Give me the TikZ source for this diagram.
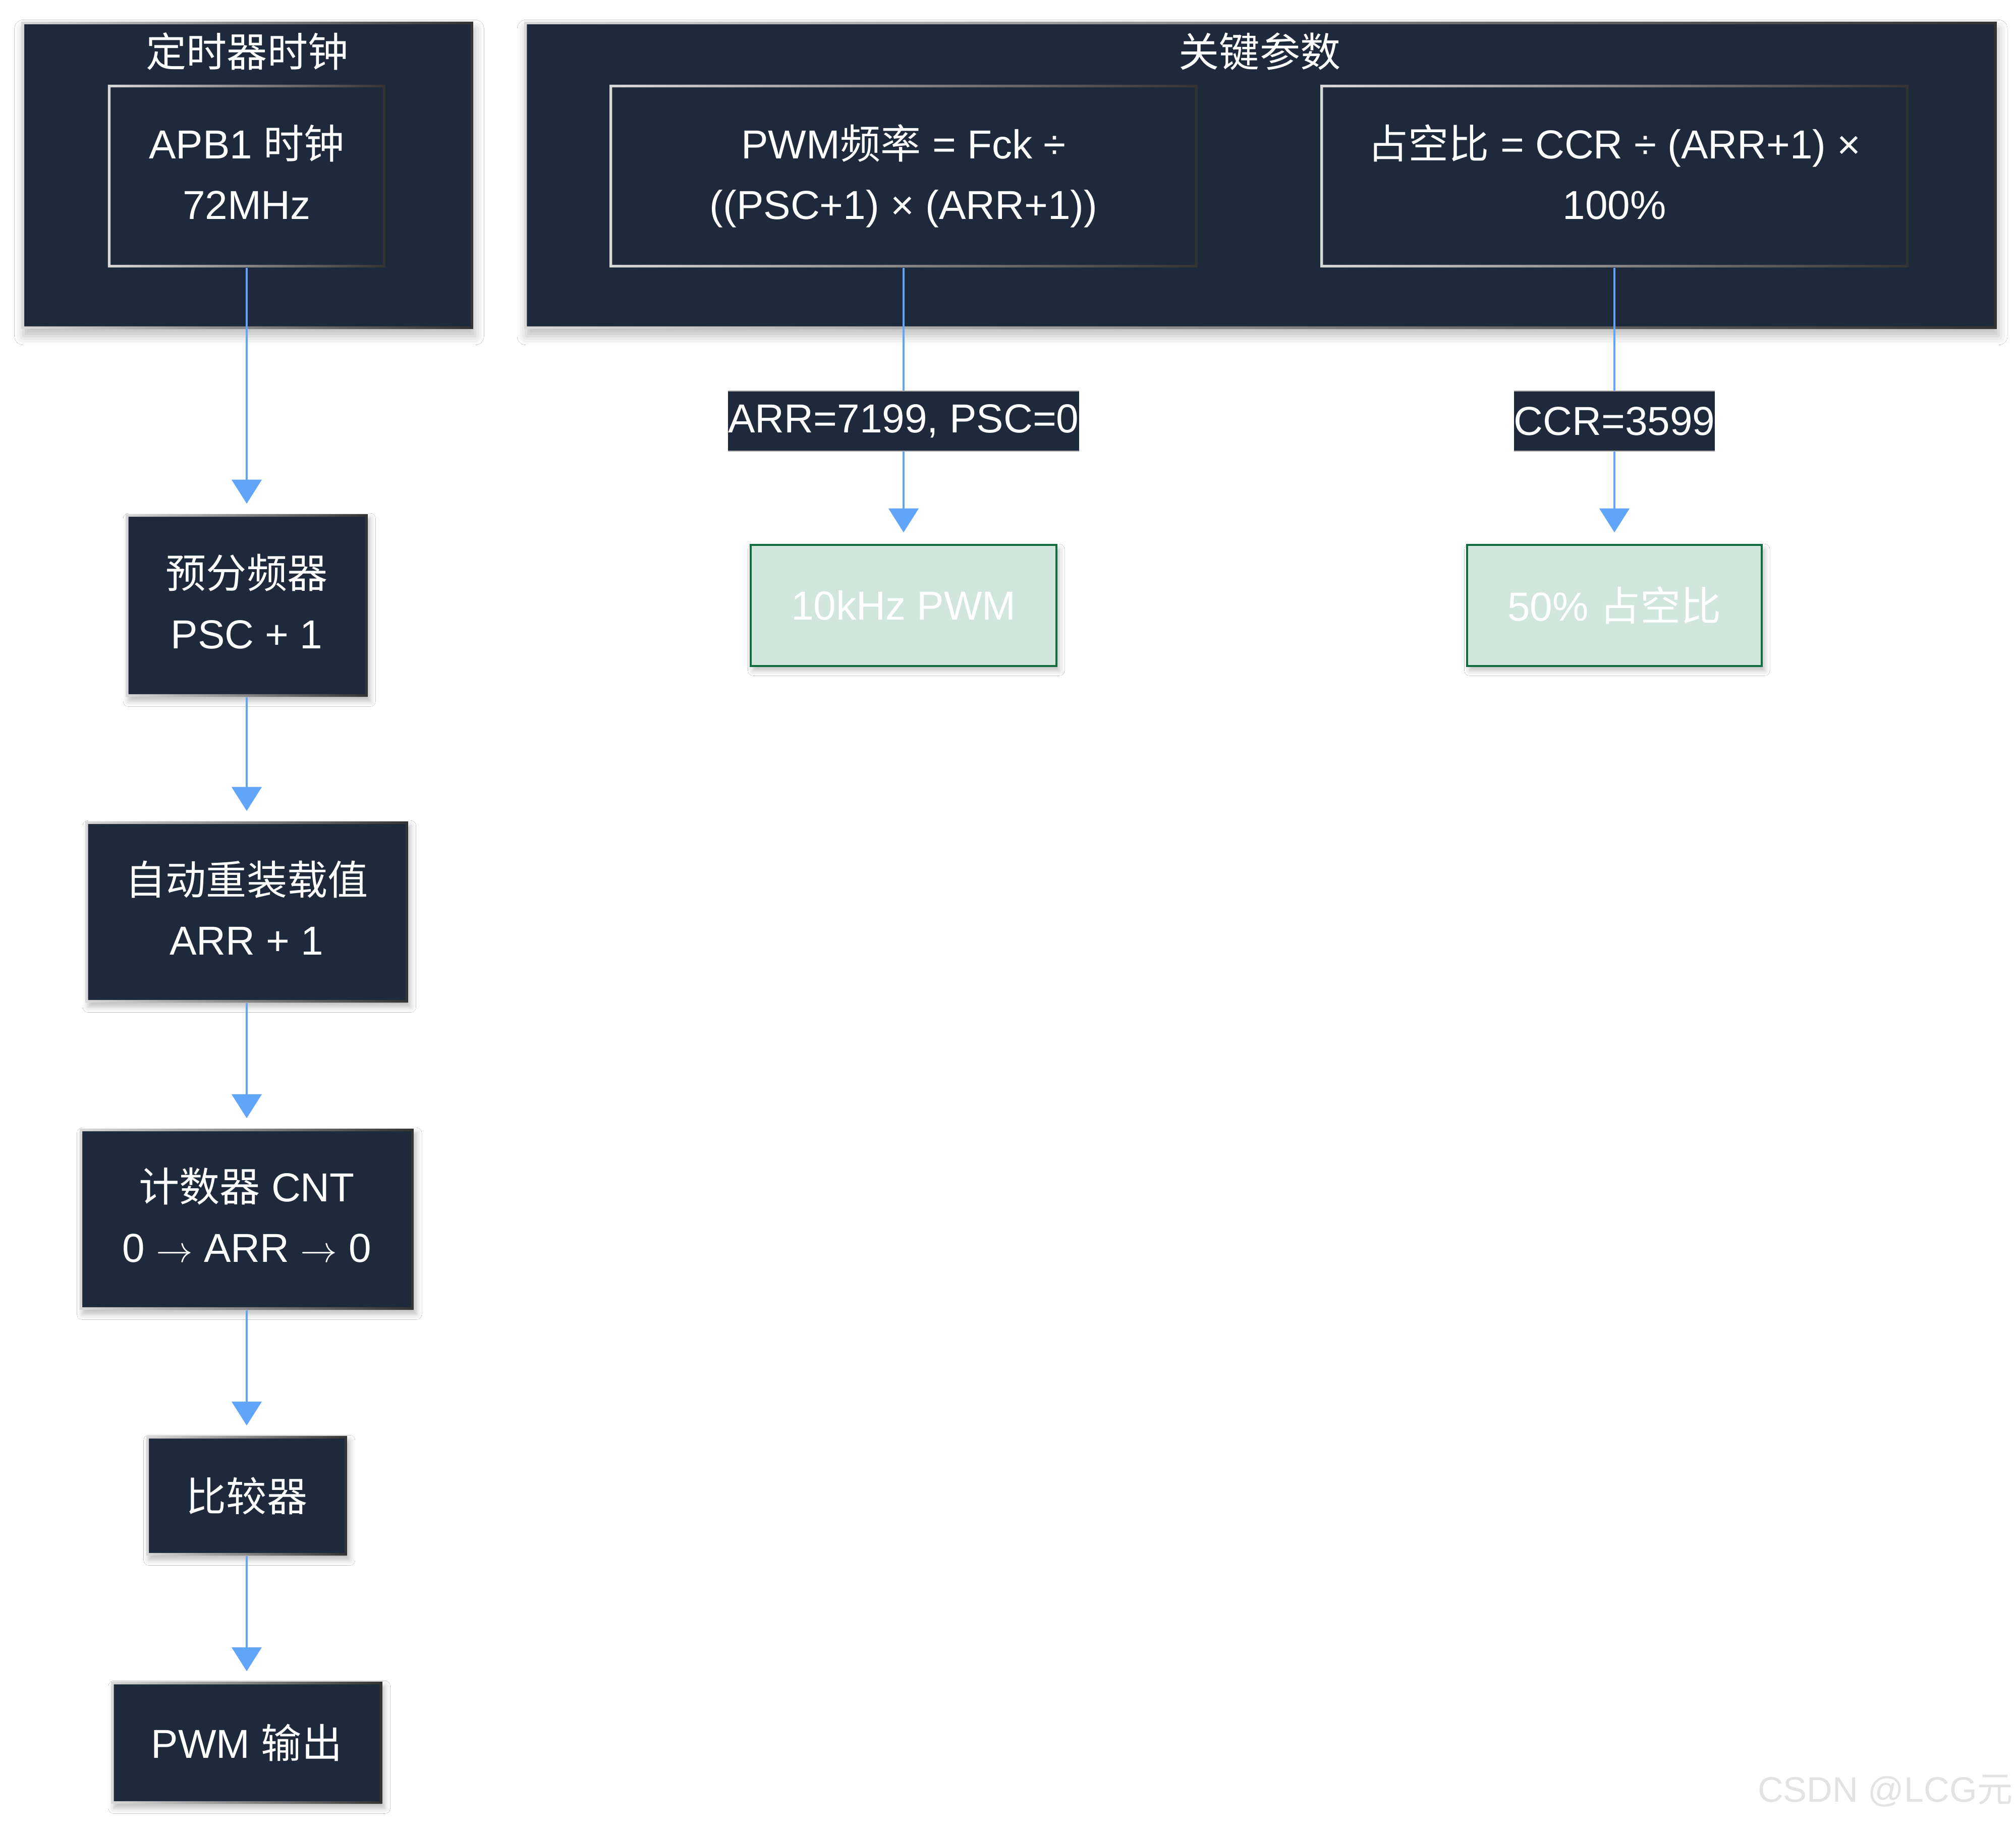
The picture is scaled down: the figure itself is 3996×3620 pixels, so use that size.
\documentclass[tikz,border=0pt]{standalone}
\usepackage{fontspec}
\setmainfont{Liberation Sans}
\newfontfamily\cjk{Noto Sans CJK SC}
\usetikzlibrary{arrows.meta,shadows.blur}
\definecolor{navy}{HTML}{1E293B}
\definecolor{arrowblue}{HTML}{60A5FA}
\definecolor{greenfill}{HTML}{D1E7DD}
\definecolor{greenline}{HTML}{146C43}
\definecolor{wmgray}{HTML}{E3E3E3}
\newcommand\lowfix{\vphantom{(}}
\tikzset{
  gborder/.style={path picture={
    \shade[left color=gray!30, right color=black!80, even odd rule]
      (path picture bounding box.south west) rectangle (path picture bounding box.north east)
      ([shift={(1.5pt,1.5pt)}]path picture bounding box.south west) rectangle ([shift={(-1.5pt,-1.5pt)}]path picture bounding box.north east);}},
  bodyfont/.style={font=\fontsize{22.8pt}{34.1pt}\selectfont},
  grp/.style={fill=navy, gborder, inner sep=0pt,
    blur shadow={shadow xshift=1pt, shadow yshift=-4pt, shadow blur radius=5pt, shadow opacity=25}},
  grptitle/.style={text=white, bodyfont, inner sep=0pt},
  inbox/.style={fill=navy, text=white, gborder, align=center, bodyfont, inner sep=0pt},
  flowbox/.style={fill=navy, text=white, gborder, align=center, bodyfont, inner sep=0pt,
    blur shadow={shadow xshift=1.5pt, shadow yshift=-2.5pt, shadow blur radius=3pt, shadow opacity=25}},
  lablbox/.style={fill=navy, text=white, bodyfont, inner sep=0pt,
    path picture={\draw[gray!70, line width=0.8pt]
      (path picture bounding box.north west) -- (path picture bounding box.north east)
      (path picture bounding box.south west) -- (path picture bounding box.south east);}},
  resbox/.style={fill=greenfill, draw=greenline, line width=1pt, text=white, bodyfont, inner sep=0pt,
    blur shadow={shadow xshift=1.5pt, shadow yshift=-2.5pt, shadow blur radius=3pt, shadow opacity=25}},
  conn/.style={draw=arrowblue, line width=1.2pt},
  arr/.style={conn, -{Triangle[width=16.8pt,length=13.5pt]}, shorten >=0.2cm},
}
\begin{document}
\begin{tikzpicture}[x=0.01cm,y=-0.01cm]
\useasboundingbox (0,0) rectangle (3996,3620);
\fill[white] (0,0) rectangle (3996,3620);

% groups
\node[grp, minimum width=8.95cm, minimum height=6.09cm] (g1) at (490.5,347.5) {};
\node[grptitle] (t1) at (490,102) {\cjk 定时器时钟};
\node[grp, minimum width=29.17cm, minimum height=6.09cm] (g2) at (2498.5,347.5) {};
\node[grptitle] (t2) at (2497,102) {\cjk 关键参数};

% inner boxes
\node[inbox, minimum width=5.5cm, minimum height=3.62cm] (apb) at (489,349) {APB1 {\cjk 时钟}\\72MHz\lowfix};
\node[inbox, minimum width=11.65cm, minimum height=3.62cm] (pwmf) at (1791,349) {PWM{\cjk 频率} = Fck ÷\\((PSC+1) × (ARR+1))};
\node[inbox, minimum width=11.65cm, minimum height=3.62cm] (duty) at (3200,349) {{\cjk 占空比} = CCR ÷ (ARR+1) ×\\100\%\lowfix};

% labels
\node[lablbox, minimum width=6.93cm, minimum height=1.19cm] (lab1) at (1791,834.5) {ARR=7199, PSC=0};
\node[lablbox, minimum width=3.97cm, minimum height=1.19cm] (lab2) at (3200,834.5) {CCR=3599};

% results
\node[resbox, minimum width=6.06cm, minimum height=2.4cm] (f10k) at (1791,1200) {10kHz PWM};
\node[resbox, minimum width=5.84cm, minimum height=2.4cm] (d50) at (3200,1200) {50\% {\cjk 占空比}};

% left flow
\node[flowbox, minimum width=4.79cm, minimum height=3.62cm] (psc) at (489,1200) {{\cjk 预分频器}\\PSC + 1\lowfix};
\node[flowbox, minimum width=6.39cm, minimum height=3.59cm] (arrv) at (489,1807.5) {{\cjk 自动重装载值}\\ARR + 1\lowfix};
\node[flowbox, minimum width=6.62cm, minimum height=3.59cm] (cnt) at (489,2416.5) {{\cjk 计数器} CNT\\0 $\rightarrow$ ARR $\rightarrow$ 0\lowfix};
\node[flowbox, minimum width=3.98cm, minimum height=2.37cm] (cmp) at (489,2964.5) {\cjk 比较器};
\node[flowbox, minimum width=5.37cm, minimum height=2.42cm] (out) at (489,3454) {PWM {\cjk 输出}};

% connectors
\draw[arr] (apb) -- (psc);
\draw[arr] (psc) -- (arrv);
\draw[arr] (arrv) -- (cnt);
\draw[arr] (cnt) -- (cmp);
\draw[arr] (cmp) -- (out);
\draw[conn] (pwmf) -- (lab1);
\draw[arr, shorten >=0.23cm] (lab1) -- (f10k);
\draw[conn] (duty) -- (lab2);
\draw[arr, shorten >=0.23cm] (lab2) -- (d50);

% watermark
\node[anchor=east, text=wmgray, font=\fontsize{20pt}{24pt}\selectfont, inner sep=0pt] (wm) at (3990,3550) {CSDN @LCG{\cjk 元}};
\end{tikzpicture}
\end{document}
